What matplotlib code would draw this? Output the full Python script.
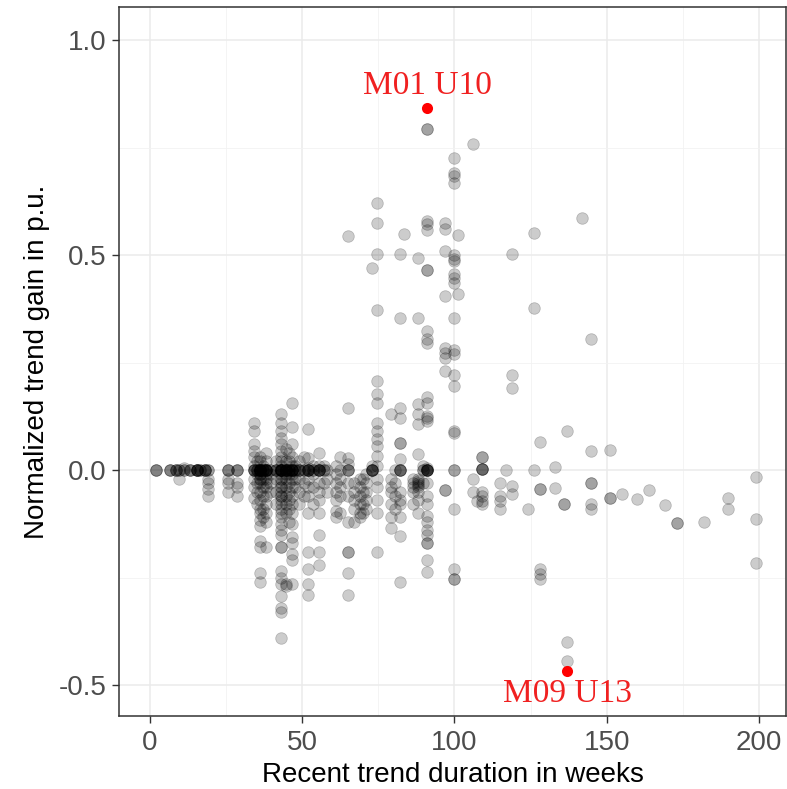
import numpy as np
import matplotlib
matplotlib.use("Agg")
import matplotlib.pyplot as plt
from matplotlib.ticker import MultipleLocator

# ---- data ----
col_weeks = [2, 6.5, 8.5, 9.5, 11, 13, 15.5, 16.5, 18, 19, 25.5, 28.5,
             34, 35, 36, 37, 38, 39.5, 41.5, 43, 44.5, 45.5, 46.5, 47.5, 49,
             50.5, 52, 53.5, 55.5, 57, 58,
             61, 62.5, 65, 67, 69, 70, 71, 73, 74.5, 79, 80.5, 82, 83.5,
             86.5, 88, 89.5,
             91, 97, 100, 101, 106, 107.5, 109, 115, 117, 119,
             124, 126, 128, 133, 136, 137, 142, 145, 151, 155,
             160, 164, 169, 173, 182, 190, 199]

col_gains = [
    [0, 0, 0],                                   # 2
    [0, 0, 0],                                   # 6.5
    [0, 0, 0],                                   # 8.5
    [0, 0, -0.02],                               # 9.5
    [0.005, 0, 0],                               # 11
    [0, 0, 0],                                   # 13
    [0, 0, 0, 0, 0, 0],                          # 15.5
    [0, 0],                                      # 16.5
    [0, 0, 0, 0],                                # 18
    [0, 0, -0.02, -0.03, -0.045, -0.06],         # 19
    [0, 0, 0, -0.02, -0.03, -0.05],              # 25.5
    [0, 0, 0, -0.03, -0.04, -0.06],              # 28.5
    [0.11, 0.09, 0.06, 0.045, 0.03, 0.01, 0, 0, 0, 0, -0.02, -0.04, -0.065],   # 34
    [0.02, 0, 0, 0, -0.01, -0.03, -0.05, -0.08],                               # 35
    [0.03, 0.02, 0, 0, 0, 0, 0, 0, 0, 0, -0.01, -0.01, -0.02, -0.02, -0.03,
     -0.05, -0.07, -0.09, -0.1, -0.115, -0.13, -0.165, -0.18, -0.24, -0.26],   # 36
    [0.01, 0, 0, 0, -0.02, -0.04, -0.06, -0.09, -0.11],                        # 37
    [0.04, 0.02, 0, 0, 0, 0, 0, 0, 0, -0.01, -0.02, -0.03, -0.04, -0.06, -0.08,
     -0.1, -0.12, -0.18],                                                      # 38
    [0, 0, -0.01, -0.03, -0.05],                                               # 39.5
    [0.02, 0, 0, 0, -0.02, -0.05, -0.08],                                      # 41.5
    [0.13, 0.11, 0.09, 0.075, 0.06, 0.045, 0.03, 0.02, 0.01, 0, 0, 0, 0, 0, 0,
     0, 0, 0, -0.01, -0.02, -0.02, -0.03, -0.04, -0.04, -0.05, -0.06, -0.06,
     -0.07, -0.08, -0.09, -0.1, -0.11, -0.125, -0.14, -0.15, -0.18, -0.18,
     -0.235, -0.25, -0.265, -0.293, -0.32, -0.33, -0.39],                      # 43
    [0.05, 0.02, 0, 0, 0, 0, 0, 0, -0.01, -0.02, -0.04, -0.06, -0.08, -0.1,
     -0.265, -0.27],                                                           # 44.5
    [0.04, 0.02, 0, 0, 0, -0.01, -0.03, -0.05, -0.07, -0.09, -0.12],            # 45.5
    [0.156, 0.1, 0.06, 0.03, 0.01, 0, 0, 0, 0, 0, 0, -0.01, -0.02, -0.04,
     -0.06, -0.08, -0.1, -0.126, -0.155, -0.17, -0.195, -0.21, -0.265],        # 46.5
    [0.01, 0, 0, -0.02, -0.04],                                                # 47.5
    [0.02, 0, 0, 0, -0.02, -0.05, -0.08],                                      # 49
    [0.03, 0, 0, -0.03, -0.06],                                                # 50.5
    [0.095, 0.028, 0.005, 0, 0, 0, 0, 0, -0.02, -0.04, -0.06, -0.1, -0.19,
     -0.23, -0.265, -0.29],                                                    # 52
    [0.01, 0, 0, -0.01, -0.04, -0.08],                                         # 53.5
    [0.04, 0.01, 0, 0, 0, 0, 0, -0.03, -0.05, -0.07, -0.1, -0.15, -0.19,
     -0.22],                                                                   # 55.5
    [0.01, 0, 0, -0.03],                                                       # 57
    [0, -0.02, -0.05],                                                         # 58
    [0.01, -0.01, -0.03, -0.05, -0.07, -0.095, -0.11],                         # 61
    [0.03, 0, -0.02, -0.04, -0.06, -0.1],                                      # 62.5
    [0.545, 0.145, 0.028, 0.015, 0, 0, 0, -0.03, -0.06, -0.12, -0.19, -0.19,
     -0.24, -0.29],                                                            # 65
    [-0.03, -0.05, -0.07, -0.09, -0.12],                                       # 67
    [-0.02, -0.04, -0.06, -0.08, -0.1, -0.11],                                 # 69
    [-0.02, -0.05, -0.08, -0.1],                                               # 70
    [-0.01, -0.03, -0.05, -0.07, -0.09],                                       # 71
    [0.47, 0.01, 0, 0, 0, 0, 0],                                               # 73
    [0.62, 0.575, 0.502, 0.372, 0.207, 0.177, 0.156, 0.11, 0.09, 0.072, 0.056,
     0.033, 0.01, -0.02, -0.04, -0.07, -0.1, -0.19],                           # 74.5
    [0.13, -0.02, -0.04, -0.05, -0.08, -0.11, -0.135],                         # 79
    [0, -0.03, -0.06, -0.09],                                                  # 80.5
    [0.502, 0.353, 0.145, 0.12, 0.063, 0.063, 0.026, 0, 0, 0, 0, -0.05, -0.07,
     -0.08, -0.11, -0.153, -0.26],                                             # 82
    [0.549],                                                                   # 83.5
    [-0.02, -0.03, -0.04, -0.05, -0.08],                                       # 86.5
    [0.493, 0.353, 0.153, 0.13, 0.107, 0.037, -0.02, -0.025, -0.03, -0.035,
     -0.04, -0.05, -0.07, -0.1],                                               # 88
    [0.01, 0, 0, -0.03],                                                       # 89.5
    [0.793, 0.793, 0.579, 0.572, 0.558, 0.465, 0.465, 0.323, 0.305, 0.295, 0.17,
     0.155, 0.125, 0.12, 0.115, 0.005, 0, 0, 0, 0, 0, 0, -0.03, -0.06, -0.08,
     -0.107, -0.12, -0.14, -0.15, -0.17, -0.17, -0.21, -0.237],                # 91
    [0.575, 0.56, 0.51, 0.405, 0.284, 0.272, 0.26, 0.23, -0.047, -0.047],      # 97
    [0.726, 0.69, 0.684, 0.668, 0.5, 0.49, 0.486, 0.456, 0.447, 0.435, 0.353,
     0.28, 0.27, 0.22, 0.195, 0.09, 0.086, 0, 0, -0.09, -0.23, -0.254, -0.254],  # 100
    [0.546, 0.41],                                                             # 101
    [0.758, -0.02, -0.05],                                                     # 106
    [-0.072],                                                                  # 107.5
    [0.03, 0.03, 0.002, 0.002, 0.002, 0.002, -0.05, -0.06, -0.072, -0.08],     # 109
    [-0.03, -0.06, -0.072, -0.09],                                             # 115
    [0],                                                                       # 117
    [0.502, 0.22, 0.19, -0.037, -0.056],                                       # 119
    [-0.09],                                                                   # 124
    [0.552, 0.377, 0],                                                         # 126
    [0.065, -0.044, -0.044, -0.23, -0.242, -0.254],                            # 128
    [0.007, -0.042],                                                           # 133
    [-0.08, -0.08],                                                            # 136
    [0.09, -0.40, -0.444],                                                     # 137
    [0.586],                                                                   # 142
    [0.305, 0.044, -0.03, -0.03, -0.08, -0.09],                                # 145
    [0.046, -0.065, -0.065],                                                   # 151
    [-0.055],                                                                  # 155
    [-0.067],                                                                  # 160
    [-0.047],                                                                  # 164
    [-0.081],                                                                  # 169
    [-0.123, -0.123],                                                          # 173
    [-0.121],                                                                  # 182
    [-0.066, -0.09],                                                           # 190
    [-0.016, -0.113, -0.216],                                                  # 199
]

highlight_weeks = [91, 137]
highlight_gains = [0.843, -0.468]
highlight_labels = ["M01 U10", "M09 U13"]
label_gains = [0.893, -0.521]

x_ticks = [0, 50, 100, 150, 200]
y_ticks = [-0.5, 0.0, 0.5, 1.0]
y_tick_labels = ["-0.5", "0.0", "0.5", "1.0"]

weeks = []
gain = []
for w, gs in zip(col_weeks, col_gains):
    for g in gs:
        weeks.append(w)
        gain.append(g)

# ---- plotting ----
plt.rcParams['font.family'] = ['Liberation Sans', 'DejaVu Sans']
fig = plt.figure(figsize=(7.87, 7.89), dpi=100)
ax = fig.add_axes([119 / 787, 1 - 716 / 789, (786 - 119) / 787, (716 - 7) / 789])

ax.set_xlim(-10.2, 208.9)
ax.set_ylim(-0.572, 1.077)

ax.set_xticks(x_ticks)
ax.set_yticks(y_ticks)
ax.set_yticklabels(y_tick_labels)
ax.xaxis.set_minor_locator(MultipleLocator(25))
ax.yaxis.set_minor_locator(MultipleLocator(0.25))

ax.grid(which='major', color='#EBEBEB', linewidth=1.1, zorder=0)
ax.grid(which='minor', color='#F2F2F2', linewidth=0.6, zorder=0)
ax.set_axisbelow(True)

ax.tick_params(which='major', direction='out', length=5, width=1.0, color='#333333',
               labelsize=20, labelcolor='#4D4D4D')
ax.tick_params(axis='x', which='major', pad=5)
ax.tick_params(axis='y', which='major', pad=4)
ax.tick_params(which='minor', length=0)
for sp in ax.spines.values():
    sp.set_color('#333333')
    sp.set_linewidth(1.1)

ax.scatter(weeks, gain, s=70, facecolors=(0, 0, 0, 0.2), edgecolors=(0, 0, 0, 0.2),
           linewidths=0.6, zorder=3)
ax.scatter(highlight_weeks, highlight_gains, s=64, color='red', linewidths=0, zorder=4)

for w, lg, lab in zip(highlight_weeks, label_gains, highlight_labels):
    ax.text(w, lg, lab, color='#F02020', fontsize=24,
            family=['Liberation Serif', 'DejaVu Serif'],
            ha='center', va='center', zorder=5)

ax.set_xlabel("Recent trend duration in weeks", fontsize=20, color='black')
ax.set_ylabel("Normalized trend gain in p.u.", fontsize=20, color='black')
ax.xaxis.label.set_va('center')
ax.yaxis.label.set_va('center')
ax.xaxis.set_label_coords(0.5, (716 - 775) / 709)
ax.yaxis.set_label_coords((37 - 119) / 667, 0.5)

fig.savefig("out.png", dpi=100)
